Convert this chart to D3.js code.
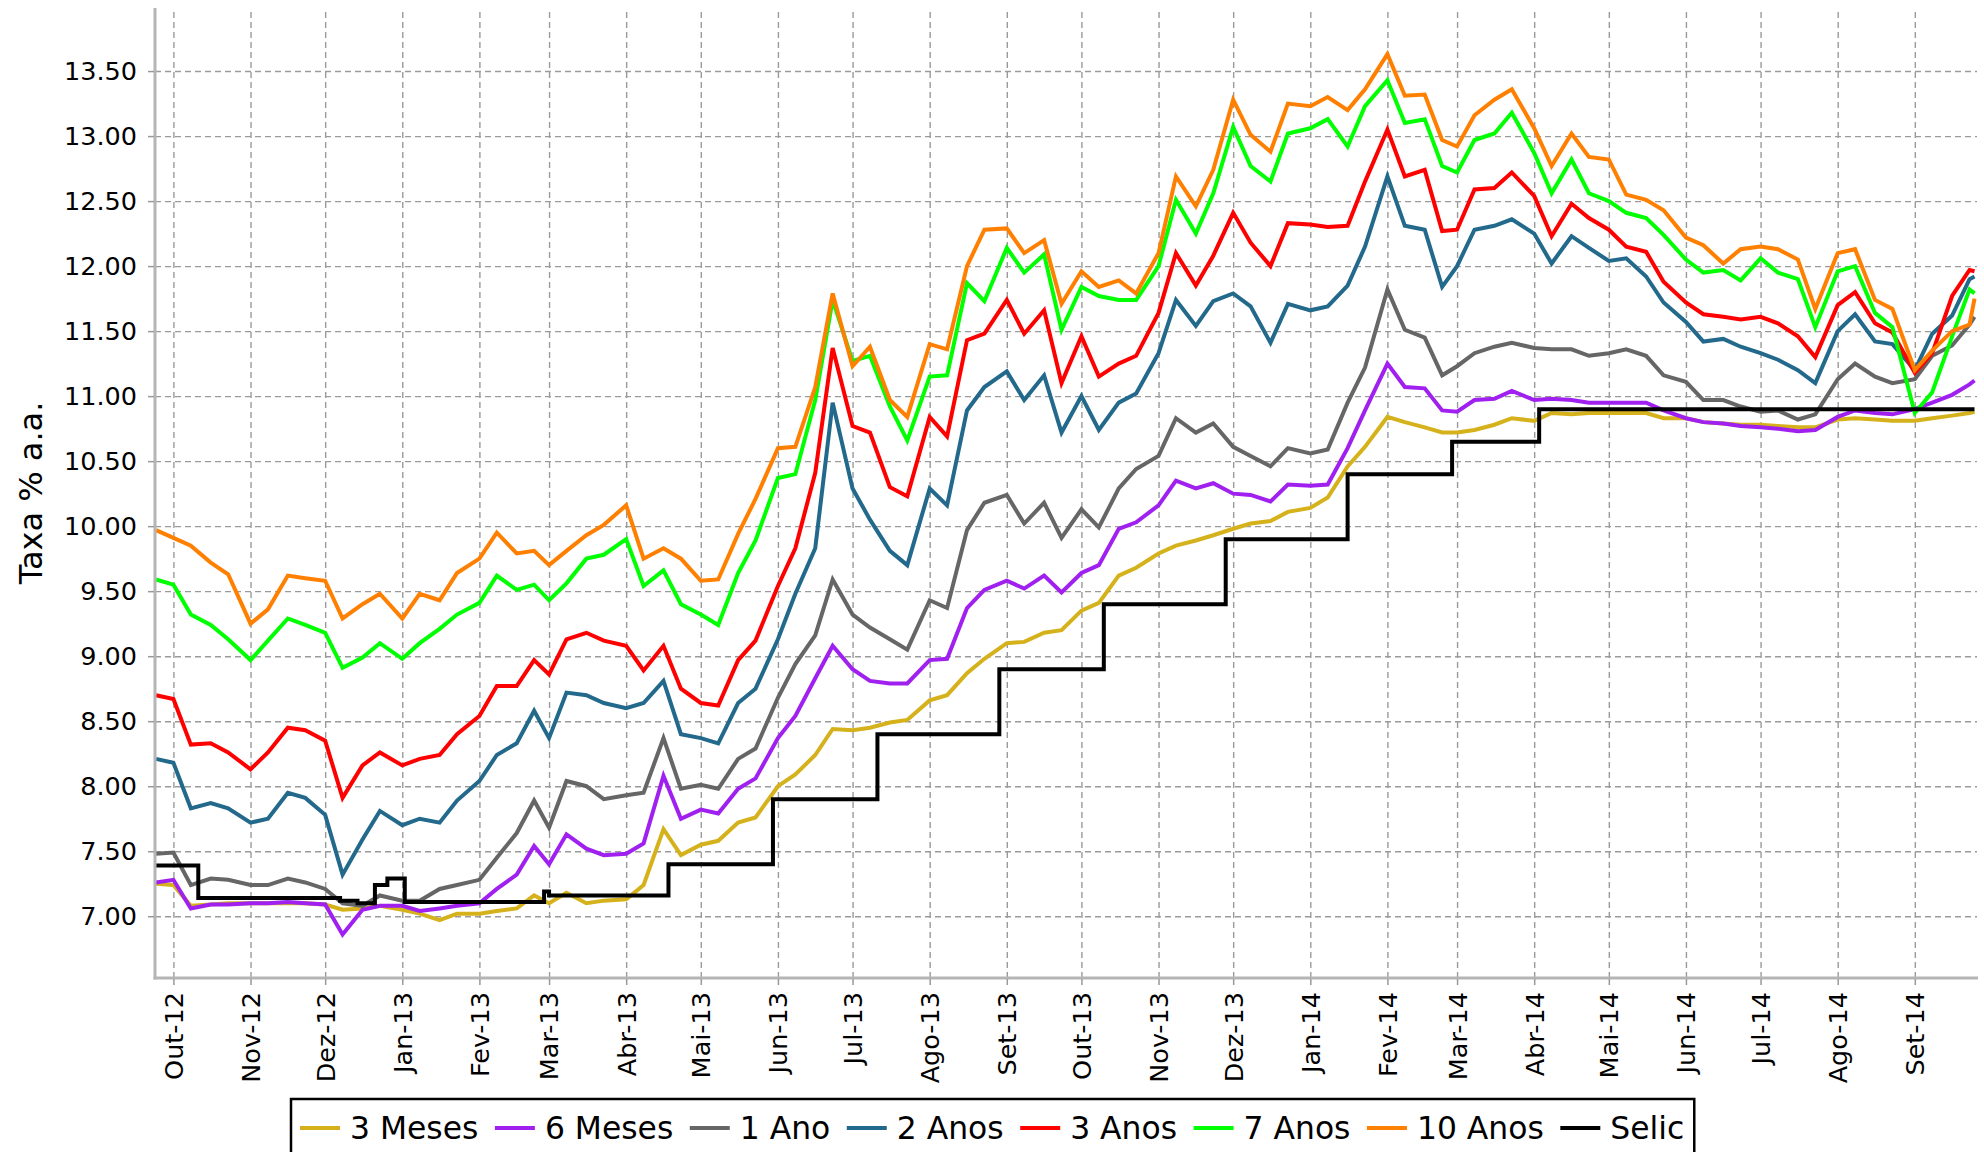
<!DOCTYPE html>
<html>
<head>
<meta charset="utf-8">
<script src="https://cdn.jsdelivr.net/npm/d3@7"></script>
<style>
body { margin: 0; background: #fff; }
text { font-family: "DejaVu Sans", sans-serif; fill: #000; }
</style>
</head>
<body>
<svg id="chart" width="1984" height="1152"></svg>
<script>
// sample dates: first day, then days 1, 8, 16, 23 of each month Out-12 .. Set-14, then last day
var firstDay = "2012-09-24";
var lastDay = "2014-09-25";
var firstMonth = "2012-10-01";
var endMonth = "2014-10-01";
var sampleDays = [1, 8, 16, 23];

var monthNames = ["Jan", "Fev", "Mar", "Abr", "Mai", "Jun", "Jul", "Ago", "Set", "Out", "Nov", "Dez"];
var yTicks = [7.00, 7.50, 8.00, 8.50, 9.00, 9.50, 10.00, 10.50, 11.00, 11.50, 12.00, 12.50, 13.00, 13.50];

var tx3m = [7.25,
  7.24, 7.08, 7.09, 7.10,  7.10, 7.10, 7.10, 7.10,  7.09, 7.05, 7.06, 7.08,
  7.05, 7.02, 6.97, 7.02,  7.02, 7.04, 7.06, 7.16,  7.10, 7.18, 7.10, 7.12,
  7.13, 7.24, 7.67, 7.47,  7.55, 7.58, 7.72, 7.76,  8.00, 8.09, 8.24, 8.44,
  8.43, 8.45, 8.49, 8.51,  8.66, 8.70, 8.87, 8.98,  9.10, 9.11, 9.18, 9.20,
  9.35, 9.41, 9.62, 9.68,  9.79, 9.85, 9.89, 9.93,  9.98, 10.02, 10.04, 10.11,
  10.14, 10.22, 10.46, 10.61,  10.84, 10.80, 10.76, 10.72,  10.72, 10.74, 10.78, 10.83,
  10.81, 10.87, 10.86, 10.87,  10.87, 10.87, 10.87, 10.83,  10.83, 10.80, 10.79, 10.78,
  10.78, 10.77, 10.76, 10.76,  10.82, 10.83, 10.82, 10.81,  10.81, 10.83, 10.85, 10.87,
  10.88];

var tx6m = [7.26,
  7.28, 7.06, 7.09, 7.09,  7.10, 7.10, 7.11, 7.10,  7.09, 6.86, 7.05, 7.08,
  7.08, 7.04, 7.06, 7.08,  7.10, 7.21, 7.32, 7.54,  7.40, 7.63, 7.52, 7.47,
  7.48, 7.56, 8.08, 7.75,  7.82, 7.79, 7.98, 8.06,  8.37, 8.54, 8.83, 9.08,
  8.90, 8.81, 8.79, 8.79,  8.97, 8.98, 9.37, 9.51,  9.58, 9.52, 9.62, 9.49,
  9.64, 9.70, 9.98, 10.03,  10.16, 10.35, 10.29, 10.33,  10.25, 10.24, 10.19, 10.32,
  10.31, 10.32, 10.60, 10.89,  11.25, 11.07, 11.06, 10.89,  10.88, 10.97, 10.98, 11.04,
  10.97, 10.98, 10.97, 10.95,  10.95, 10.95, 10.95, 10.89,  10.83, 10.80, 10.79, 10.77,
  10.76, 10.75, 10.73, 10.74,  10.84, 10.89, 10.87, 10.86,  10.90, 10.95, 11.01, 11.09,
  11.12];

var tx1a = [7.48,
  7.49, 7.24, 7.29, 7.28,  7.24, 7.24, 7.29, 7.26,  7.21, 7.10, 7.08, 7.16,
  7.12, 7.12, 7.21, 7.24,  7.28, 7.45, 7.64, 7.89,  7.68, 8.04, 8.00, 7.90,
  7.93, 7.95, 8.37, 7.98,  8.01, 7.98, 8.21, 8.29,  8.68, 8.94, 9.16, 9.59,
  9.32, 9.22, 9.13, 9.05,  9.43, 9.37, 9.97, 10.18,  10.24, 10.02, 10.18, 9.91,
  10.13, 9.99, 10.29, 10.44,  10.54, 10.83, 10.72, 10.79,  10.61, 10.54, 10.46, 10.60,
  10.56, 10.59, 10.95, 11.22,  11.82, 11.51, 11.45, 11.16,  11.23, 11.33, 11.38, 11.41,
  11.37, 11.36, 11.36, 11.31,  11.33, 11.36, 11.31, 11.16,  11.11, 10.97, 10.97, 10.92,
  10.88, 10.89, 10.82, 10.86,  11.13, 11.25, 11.15, 11.10,  11.13, 11.31, 11.39, 11.55,
  11.61];

var tx2a = [8.21,
  8.18, 7.83, 7.87, 7.83,  7.72, 7.75, 7.95, 7.91,  7.78, 7.32, 7.59, 7.81,
  7.70, 7.75, 7.72, 7.89,  8.04, 8.24, 8.33, 8.58,  8.37, 8.72, 8.70, 8.64,
  8.60, 8.64, 8.81, 8.40,  8.37, 8.33, 8.64, 8.75,  9.13, 9.48, 9.83, 10.95,
  10.29, 10.05, 9.81, 9.70,  10.29, 10.16, 10.89, 11.07,  11.19, 10.97, 11.16, 10.72,
  11.00, 10.74, 10.95, 11.02,  11.33, 11.74, 11.54, 11.73,  11.79, 11.69, 11.41, 11.71,
  11.66, 11.69, 11.85, 12.15,  12.69, 12.31, 12.28, 11.84,  12.00, 12.28, 12.31, 12.36,
  12.25, 12.02, 12.23, 12.14,  12.04, 12.06, 11.92, 11.72,  11.57, 11.42, 11.44, 11.38,
  11.33, 11.28, 11.20, 11.10,  11.50, 11.63, 11.42, 11.40,  11.20, 11.48, 11.62, 11.90,
  11.92];

var tx3a = [8.70,
  8.67, 8.32, 8.33, 8.26,  8.13, 8.26, 8.45, 8.43,  8.35, 7.91, 8.16, 8.26,
  8.16, 8.21, 8.24, 8.40,  8.54, 8.77, 8.77, 8.97,  8.86, 9.13, 9.18, 9.12,
  9.08, 8.89, 9.08, 8.75,  8.64, 8.62, 8.97, 9.12,  9.54, 9.83, 10.41, 11.37,
  10.77, 10.72, 10.30, 10.23,  10.84, 10.69, 11.43, 11.48,  11.74, 11.48, 11.66, 11.10,
  11.46, 11.15, 11.25, 11.31,  11.64, 12.10, 11.85, 12.08,  12.41, 12.18, 12.00, 12.33,
  12.32, 12.30, 12.31, 12.65,  13.05, 12.69, 12.74, 12.27,  12.28, 12.59, 12.60, 12.72,
  12.54, 12.23, 12.48, 12.37,  12.28, 12.15, 12.11, 11.88,  11.72, 11.63, 11.61, 11.59,
  11.61, 11.56, 11.46, 11.30,  11.70, 11.80, 11.56, 11.49,  11.18, 11.33, 11.77, 11.97,
  11.96];

var tx7a = [9.59,
  9.55, 9.32, 9.24, 9.13,  8.97, 9.12, 9.29, 9.24,  9.18, 8.91, 8.99, 9.10,
  8.98, 9.10, 9.21, 9.32,  9.41, 9.62, 9.51, 9.55,  9.43, 9.56, 9.75, 9.78,
  9.90, 9.54, 9.66, 9.40,  9.32, 9.24, 9.64, 9.89,  10.37, 10.40, 10.97, 11.74,
  11.27, 11.31, 10.92, 10.66,  11.15, 11.16, 11.87, 11.73,  12.14, 11.95, 12.09, 11.51,
  11.84, 11.77, 11.74, 11.74,  12.00, 12.51, 12.25, 12.56,  13.07, 12.77, 12.65, 13.02,
  13.06, 13.13, 12.92, 13.23,  13.43, 13.10, 13.13, 12.77,  12.72, 12.97, 13.02, 13.18,
  12.87, 12.56, 12.82, 12.56,  12.50, 12.41, 12.37, 12.24,  12.05, 11.95, 11.97, 11.89,
  12.06, 11.95, 11.90, 11.53,  11.96, 12.00, 11.64, 11.53,  10.87, 11.03, 11.46, 11.82,
  11.79];

var tx10a = [9.97,
  9.91, 9.85, 9.72, 9.63,  9.25, 9.36, 9.62, 9.60,  9.58, 9.29, 9.40, 9.48,
  9.29, 9.48, 9.43, 9.64,  9.75, 9.95, 9.79, 9.81,  9.70, 9.81, 9.93, 10.01,
  10.16, 9.75, 9.83, 9.75,  9.58, 9.59, 9.94, 10.21,  10.60, 10.61, 11.07, 11.79,
  11.23, 11.38, 10.97, 10.84,  11.40, 11.36, 12.00, 12.28,  12.29, 12.10, 12.20, 11.71,
  11.96, 11.84, 11.89, 11.79,  12.10, 12.69, 12.46, 12.74,  13.28, 13.01, 12.88, 13.25,
  13.23, 13.30, 13.20, 13.36,  13.63, 13.31, 13.32, 12.97,  12.92, 13.16, 13.28, 13.36,
  13.06, 12.77, 13.02, 12.84,  12.82, 12.55, 12.51, 12.43,  12.22, 12.16, 12.02, 12.13,
  12.15, 12.13, 12.05, 11.67,  12.10, 12.13, 11.74, 11.67,  11.20, 11.35, 11.50, 11.55,
  11.75];

// selic changes (step after each date)
var selicDates = ["2012-09-24", "2012-10-11", "2012-12-07", "2012-12-14", "2012-12-21", "2012-12-26",
  "2013-01-02", "2013-02-27", "2013-03-01", "2013-04-18", "2013-05-30", "2013-07-11", "2013-08-29",
  "2013-10-10", "2013-11-28", "2014-01-16", "2014-02-27", "2014-04-03", "2014-09-25"];
var selicValues = [7.39, 7.14, 7.12, 7.10, 7.24, 7.29,
  7.11, 7.19, 7.16, 7.40, 7.90, 8.40, 8.90,
  9.40, 9.90, 10.40, 10.65, 10.90, 10.90];

var seriesNames = ["3 Meses", "6 Meses", "1 Ano", "2 Anos", "3 Anos", "7 Anos", "10 Anos", "Selic"];
var seriesColors = ["#d5b21c", "#a020f0", "#666666", "#22698b", "#ff0000", "#00ff00", "#ff7f00", "#000000"];

var parseDate = d3.timeParse("%Y-%m-%d");

var months = d3.timeMonth.range(parseDate(firstMonth), parseDate(endMonth));
var dates = [parseDate(firstDay)];
months.forEach(function(m) {
    sampleDays.forEach(function(d) {
        dates.push(new Date(m.getFullYear(), m.getMonth(), d));
    });
});
dates.push(parseDate(lastDay));

var rateSeries = [tx3m, tx6m, tx1a, tx2a, tx3a, tx7a, tx10a];
var lines = rateSeries.map(function(vals, i) {
    return {
        name: seriesNames[i],
        color: seriesColors[i],
        points: vals.map(function(v, j) { return {date: dates[j], value: v}; })
    };
});
lines.push({
    name: "Selic",
    color: seriesColors[7],
    step: true,
    points: selicDates.map(function(d, j) { return {date: parseDate(d), value: selicValues[j]}; })
});

var plotLeft = 155, plotRight = 1977, plotTop = 8, plotBottom = 978;
var svg = d3.select("#chart");

var x = d3.scaleTime()
    .domain([parseDate("2012-09-24"), parseDate("2014-09-26")])
    .range([156, plotRight]);
var y = d3.scaleLinear()
    .domain([6.525, 13.985])
    .range([plotBottom, plotTop]);

// grid
var gx = svg.append("g")
    .attr("transform", "translate(0," + plotBottom + ")")
    .call(d3.axisBottom(x).tickValues(months).tickSize(-(plotBottom - plotTop)).tickFormat(""));
var gy = svg.append("g")
    .attr("transform", "translate(" + plotLeft + ",0)")
    .call(d3.axisLeft(y).tickValues(yTicks).tickSize(-(plotRight - plotLeft)).tickFormat(""));
[gx, gy].forEach(function(g) {
    g.select(".domain").remove();
    g.selectAll("line")
        .attr("stroke", "#9a9a9a")
        .attr("stroke-width", 1.4)
        .attr("stroke-dasharray", "6,4");
});

// lines
var lineGen = d3.line()
    .x(function(d) { return x(d.date); })
    .y(function(d) { return y(d.value); });
var stepGen = d3.line()
    .curve(d3.curveStepAfter)
    .x(function(d) { return x(d.date); })
    .y(function(d) { return y(d.value); });

svg.append("g").selectAll("path").data(lines).enter()
    .append("path")
    .attr("d", function(d) { return d.step ? stepGen(d.points) : lineGen(d.points); })
    .attr("fill", "none")
    .attr("stroke", function(d) { return d.color; })
    .attr("stroke-width", 4)
    .attr("stroke-linejoin", "miter");

// spines
svg.append("line").attr("x1", plotLeft).attr("x2", plotLeft).attr("y1", plotTop).attr("y2", plotBottom + 1.5)
    .attr("stroke", "#b5b5b5").attr("stroke-width", 3);
svg.append("line").attr("x1", plotLeft - 1.5).attr("x2", plotRight + 1).attr("y1", plotBottom).attr("y2", plotBottom)
    .attr("stroke", "#b5b5b5").attr("stroke-width", 3);

// y axis
var yAxis = svg.append("g")
    .attr("transform", "translate(" + (plotLeft - 1) + ",0)")
    .call(d3.axisLeft(y).tickValues(yTicks).tickFormat(d3.format(".2f")).tickSize(6).tickPadding(11));
yAxis.select(".domain").remove();
yAxis.selectAll("line").attr("stroke", "#999").attr("stroke-width", 1.5);
yAxis.selectAll("text").style("font-size", "25.5px").style("font-family", "DejaVu Sans");

// x axis
var xAxis = svg.append("g")
    .attr("transform", "translate(0," + (plotBottom + 1) + ")")
    .call(d3.axisBottom(x).tickValues(months).tickSize(6).tickFormat(function(d) {
        return monthNames[d.getMonth()] + "-" + d3.timeFormat("%y")(d);
    }));
xAxis.select(".domain").remove();
xAxis.selectAll("line").attr("stroke", "#999").attr("stroke-width", 1.5);
xAxis.selectAll("text")
    .attr("transform", "rotate(-90)")
    .attr("text-anchor", "end")
    .attr("x", -13)
    .attr("y", 0)
    .attr("dy", "0.35em")
    .style("font-size", "25.5px")
    .style("font-family", "DejaVu Sans");

// y label
svg.append("text")
    .attr("transform", "translate(42,493) rotate(-90)")
    .attr("text-anchor", "middle")
    .style("font-size", "32px")
    .text("Taxa % a.a.");

// legend
var legend = svg.append("g");
var box = legend.append("rect");
var lx = 300;
lines.forEach(function(s) {
    legend.append("line")
        .attr("x1", lx).attr("x2", lx + 40)
        .attr("y1", 1128).attr("y2", 1128)
        .attr("stroke", s.color)
        .attr("stroke-width", 4);
    var t = legend.append("text")
        .attr("x", lx + 50)
        .attr("y", 1138.5)
        .style("font-size", "31.4px")
        .text(s.name);
    lx = lx + 50 + t.node().getComputedTextLength() + 16.5;
});
box.attr("x", 291).attr("y", 1099)
    .attr("width", lx - 16.5 + 10 - 291)
    .attr("height", 80)
    .attr("fill", "#fff")
    .attr("stroke", "#000")
    .attr("stroke-width", 2.5);
</script>
</body>
</html>
